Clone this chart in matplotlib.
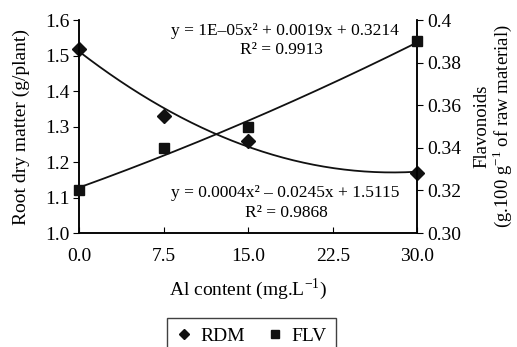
import numpy as np
import matplotlib
matplotlib.use('Agg')
import matplotlib.pyplot as plt
from matplotlib.ticker import FixedLocator, FixedFormatter

plt.rcParams['font.family'] = ['Liberation Serif', 'DejaVu Serif']
plt.rcParams['mathtext.fontset'] = 'custom'
plt.rcParams['mathtext.rm'] = 'Liberation Serif'

al = [0.0, 7.5, 15.0, 30.0]
rdm = [1.52, 1.33, 1.26, 1.17]
flv = [0.32, 0.34, 0.35, 0.39]

x_ticks = [0.0, 7.5, 15.0, 22.5, 30.0]
x_labels = ['0.0', '7.5', '15.0', '22.5', '30.0']
left_ticks = [1.0, 1.1, 1.2, 1.3, 1.4, 1.5, 1.6]
left_labels = ['1.0', '1.1', '1.2', '1.3', '1.4', '1.5', '1.6']
right_ticks = [0.30, 0.32, 0.34, 0.36, 0.38, 0.40]
right_labels = ['0.30', '0.32', '0.34', '0.36', '0.38', '0.4']

eq_flv = ['y = 1E\u201305x\u00b2 + 0.0019x + 0.3214', 'R\u00b2 = 0.9913']
eq_rdm = ['y = 0.0004x\u00b2 \u2013 0.0245x + 1.5115', 'R\u00b2 = 0.9868']

fig = plt.figure(figsize=(5.17, 3.47), dpi=100)
ax = fig.add_axes([0.153, 0.3285, 0.654, 0.6135])
ax2 = ax.twinx()

xs = np.linspace(0, 30, 200)
p_rdm = np.polyfit(al, rdm, 2)
p_flv = np.polyfit(al, flv, 2)
ax.plot(xs, np.polyval(p_rdm, xs), color='#111111', lw=1.3)
ax2.plot(xs, np.polyval(p_flv, xs), color='#111111', lw=1.3)
h1, = ax.plot(al, rdm, 'D', color='#111111', ms=7, ls='none', clip_on=False, label='RDM', zorder=5)
h2, = ax2.plot(al, flv, 's', color='#111111', ms=7, ls='none', clip_on=False, label='FLV', zorder=5)

ax.set_xlim(0, 30)
ax.set_ylim(1.0, 1.6)
ax2.set_ylim(0.30, 0.40)
ax.xaxis.set_major_locator(FixedLocator(x_ticks))
ax.xaxis.set_major_formatter(FixedFormatter(x_labels))
ax.yaxis.set_major_locator(FixedLocator(left_ticks))
ax.yaxis.set_major_formatter(FixedFormatter(left_labels))
ax2.yaxis.set_major_locator(FixedLocator(right_ticks))
ax2.yaxis.set_major_formatter(FixedFormatter(right_labels))

for a in (ax, ax2):
    a.spines['top'].set_visible(False)
    for s in a.spines.values():
        s.set_linewidth(1.1)
ax.tick_params(axis='x', direction='in', length=4, labelsize=14, pad=11)
ax.tick_params(axis='y', direction='out', length=4, labelsize=14, pad=3)
ax2.tick_params(axis='y', direction='out', length=4, labelsize=14, pad=3)

ax.set_xlabel('Al content (mg.L$^{\u22121}$)', fontsize=14, labelpad=8)
ax.set_ylabel('Root dry matter (g/plant)', fontsize=14, labelpad=11)
ax2.set_ylabel('Flavonoids\n(g.100 g$^{\u22121}$ of raw material)', fontsize=13.5,
               labelpad=9, linespacing=1.0)

ax.text(0.608, 0.932, eq_flv[0], transform=ax.transAxes, ha='center', va='baseline', fontsize=12.5)
ax.text(0.598, 0.842, eq_flv[1], transform=ax.transAxes, ha='center', va='baseline', fontsize=12.5)
ax.text(0.609, 0.168, eq_rdm[0], transform=ax.transAxes, ha='center', va='baseline', fontsize=12.5)
ax.text(0.612, 0.074, eq_rdm[1], transform=ax.transAxes, ha='center', va='baseline', fontsize=12.5)

leg = fig.legend(handles=[h1, h2], loc='upper center', bbox_to_anchor=(0.487, 0.085),
                 ncol=2, fontsize=14, frameon=True, fancybox=False, edgecolor='#111111',
                 handlelength=0.7, handletextpad=0.5, columnspacing=1.2,
                 borderpad=0.5, borderaxespad=0, markerscale=0.75)
leg.get_frame().set_linewidth(1.0)

fig.savefig('out.png', dpi=100)
